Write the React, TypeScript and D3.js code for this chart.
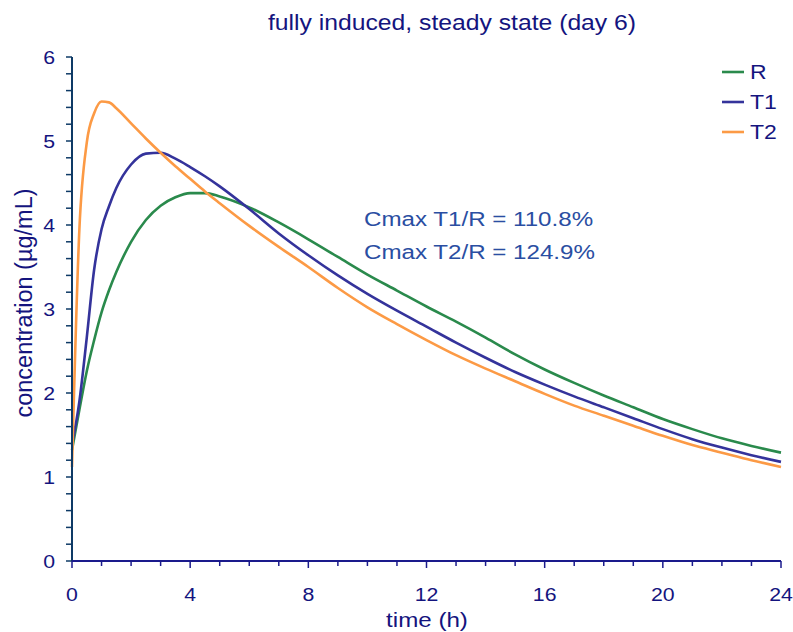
import React from "react";
import * as d3 from "d3";

const times = [0, 0.25, 0.5, 0.75, 1, 1.25, 1.5, 2, 2.5, 3, 3.5, 4, 4.5, 5, 6, 7, 8, 9, 10, 11, 12, 13, 14, 15, 16, 17, 18, 19, 20, 21, 22, 23, 24];
const seriesR = [1.32, 1.8, 2.26, 2.63, 2.96, 3.22, 3.44, 3.8, 4.06, 4.23, 4.33, 4.38, 4.38, 4.34, 4.21, 4.03, 3.83, 3.62, 3.41, 3.22, 3.03, 2.85, 2.66, 2.46, 2.28, 2.12, 1.97, 1.83, 1.69, 1.57, 1.46, 1.37, 1.29];
const seriesT1 = [1.38, 1.9, 2.66, 3.47, 3.95, 4.22, 4.44, 4.72, 4.85, 4.86, 4.79, 4.69, 4.58, 4.46, 4.19, 3.9, 3.64, 3.4, 3.18, 2.98, 2.79, 2.6, 2.42, 2.25, 2.1, 1.96, 1.83, 1.7, 1.57, 1.45, 1.35, 1.26, 1.18];
const seriesT2 = [1.12, 3.95, 4.98, 5.33, 5.47, 5.46, 5.39, 5.21, 5.03, 4.86, 4.7, 4.55, 4.4, 4.26, 3.99, 3.74, 3.5, 3.25, 3.02, 2.82, 2.63, 2.45, 2.29, 2.14, 1.99, 1.85, 1.73, 1.61, 1.49, 1.38, 1.29, 1.2, 1.12];
const seriesNames = ["R", "T1", "T2"];
const seriesColors = ["#2a8a4c", "#34339b", "#fc9a45"];
const xTicks = [0, 4, 8, 12, 16, 20, 24];
const yTicks = [0, 1, 2, 3, 4, 5, 6];
const annotations = ["Cmax T1/R = 110.8%", "Cmax T2/R = 124.9%"];
const title = "fully induced, steady state (day 6)";
const xLabel = "time (h)";
const yLabel = "concentration (µg/mL)";

const W = 793, H = 632;
const L = 72, R = 781, T = 57, B = 561;
const font = "'Liberation Sans', Arial, sans-serif";
const textColor = "#14147e";
const SX = 1.15;

function Txt(props: { x: number; y: number; size: number; anchor?: string; fill?: string; dy?: string; children: React.ReactNode }) {
  const { x, y, size, anchor = "start", fill = textColor, dy, children } = props;
  return (
    <text transform={`translate(${x},${y}) scale(${SX},1)`} textAnchor={anchor} fontSize={size} fill={fill} dy={dy}>
      {children}
    </text>
  );
}

export default function App() {
  const x = d3.scaleLinear().domain([0, 24]).range([L, R]);
  const y = d3.scaleLinear().domain([0, 6]).range([B, T]);
  const all = [seriesR, seriesT1, seriesT2];
  const line = d3.line<number>().x((_, i) => x(times[i])).y((d) => y(d)).curve(d3.curveMonotoneX);
  const xMinor = d3.range(0, 25, 1);
  const yMinor = d3.range(0, 30.5, 1).map((v) => v / 5);
  return (
    <svg width={W} height={H} style={{ position: "absolute", left: 0, top: 0, background: "#fff" }} fontFamily={font}>
      <Txt x={452} y={30} size={21.5} anchor="middle">{title}</Txt>
      {all.map((s, i) => (
        <path key={i} d={line(s) || ""} fill="none" stroke={seriesColors[i]} strokeWidth={2.6} strokeLinejoin="round" />
      ))}
      {/* y axis */}
      <line x1={L} x2={L} y1={T} y2={B} stroke="#0e3a66" strokeWidth={2} />
      {yMinor.map((v, i) => (
        <line key={i} x1={L - 6} x2={L} y1={y(v)} y2={y(v)} stroke="#0e3a66" strokeWidth={1.5} />
      ))}
      {yTicks.map((v) => (
        <Txt key={v} x={55} y={y(v)} dy="0.36em" anchor="end" size={18.5}>{v}</Txt>
      ))}
      {/* x axis */}
      <line x1={L} x2={R} y1={B} y2={B} stroke="#1a1a8c" strokeWidth={2} />
      {xMinor.map((v) => (
        <line key={v} x1={x(v)} x2={x(v)} y1={B} y2={B + (v % 4 === 0 ? 7 : 5)} stroke="#1a1a8c" strokeWidth={1.5} />
      ))}
      {xTicks.map((v) => (
        <Txt key={v} x={x(v)} y={601} anchor="middle" size={18.5}>{v}</Txt>
      ))}
      <Txt x={427} y={627} size={21} anchor="middle">{xLabel}</Txt>
      <text transform={`translate(32,303) rotate(-90)`} textAnchor="middle" fontSize={23.5} fill={textColor}>{yLabel}</text>
      {/* legend */}
      {seriesNames.map((n, i) => (
        <g key={n}>
          <line x1={722} x2={744} y1={72 + i * 30} y2={72 + i * 30} stroke={seriesColors[i]} strokeWidth={2.6} />
          <Txt x={750} y={72 + i * 30} dy="0.36em" size={20}>{n}</Txt>
        </g>
      ))}
      {annotations.map((a, i) => (
        <Txt key={i} x={364} y={226 + i * 33} size={21} fill="#2a4ea2">{a}</Txt>
      ))}
    </svg>
  );
}
